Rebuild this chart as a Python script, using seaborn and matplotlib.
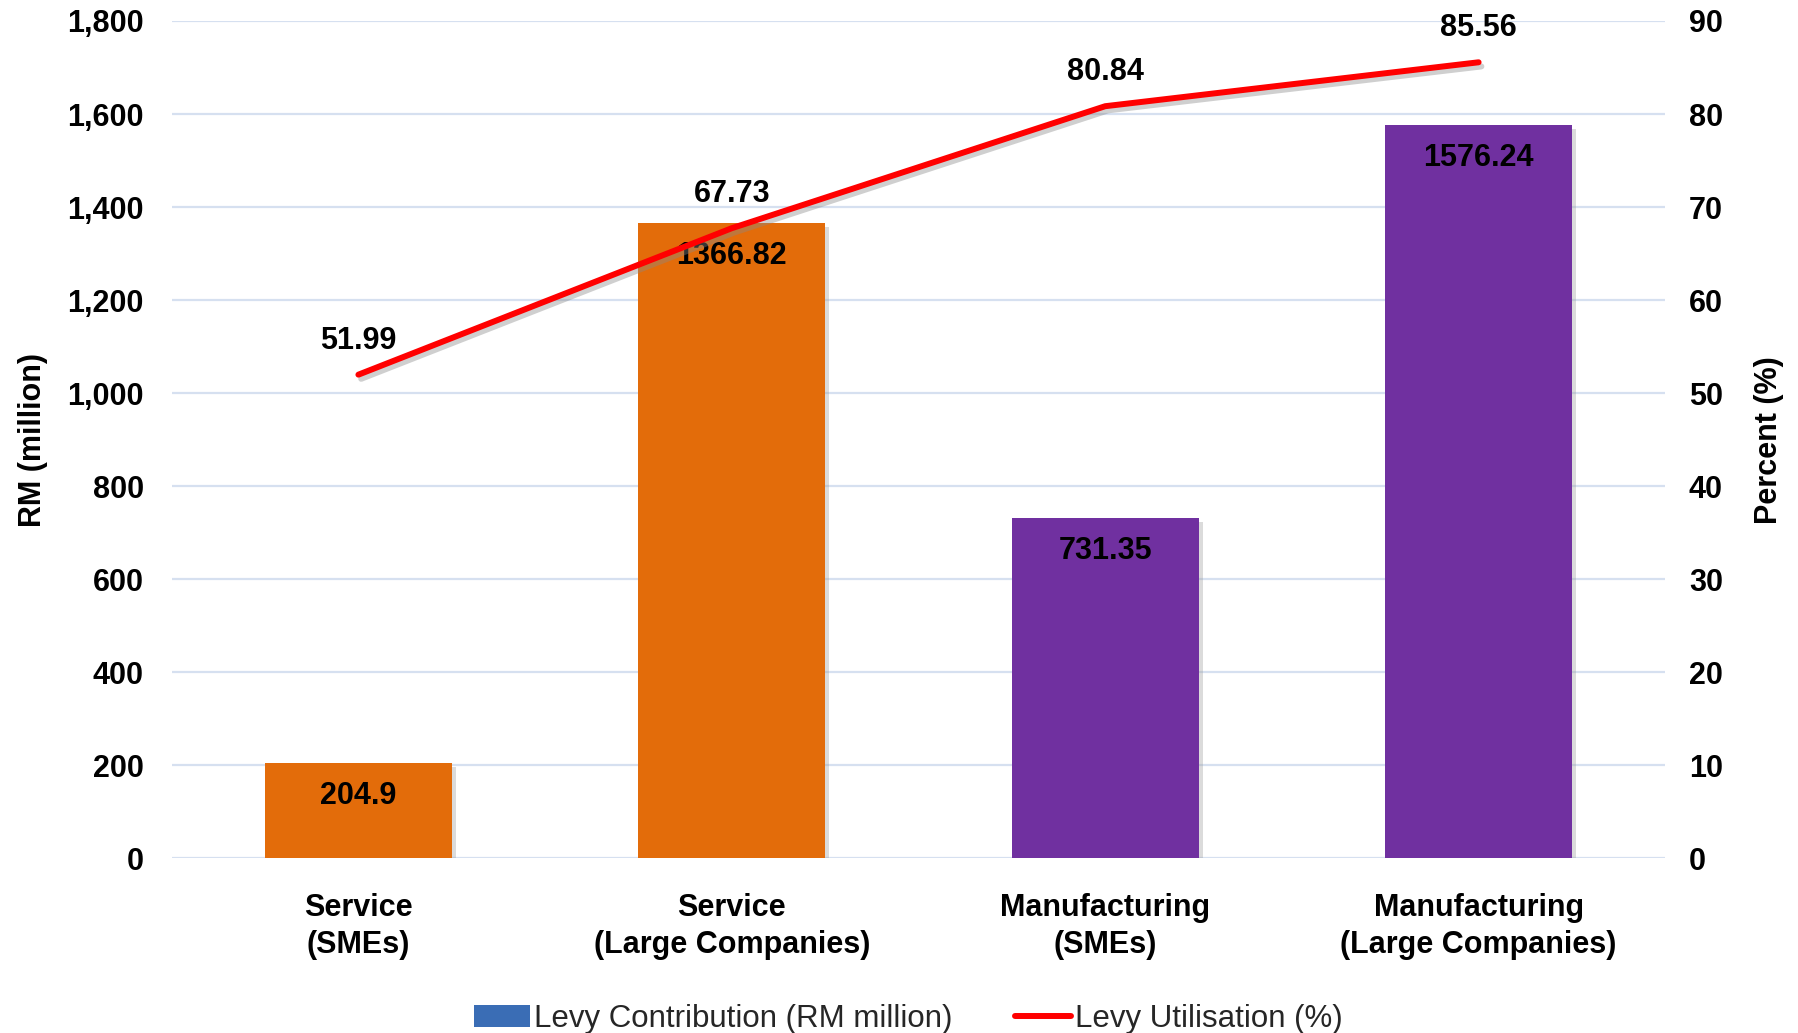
import matplotlib
matplotlib.use("Agg")
import matplotlib.pyplot as plt
import matplotlib.patheffects as pe
from matplotlib.patches import Patch
from matplotlib.lines import Line2D
from matplotlib.ticker import FuncFormatter, MultipleLocator
import numpy as np
import pandas as pd
import seaborn as sns

categories = ["Service\n(SMEs)", "Service\n(Large Companies)",
              "Manufacturing\n(SMEs)", "Manufacturing\n(Large Companies)"]
contribution = [204.9, 1366.82, 731.35, 1576.24]
utilisation = [51.99, 67.73, 80.84, 85.56]
bar_colors = ["#E36C0A", "#E36C0A", "#7030A0", "#7030A0"]
contribution_labels = ["204.9", "1366.82", "731.35", "1576.24"]
utilisation_labels = ["51.99", "67.73", "80.84", "85.56"]

sns.set_theme(style="white")
plt.rcParams['font.family'] = ['Liberation Sans', 'DejaVu Sans']

df = pd.DataFrame({"cat": categories, "val": contribution})

fig = plt.figure(figsize=(17.98, 10.33), dpi=100)
ax = fig.add_axes([0.0955, 0.169, 0.8307, 0.8107])

sns.barplot(data=df, x="cat", y="val", hue="cat", palette=bar_colors,
            width=0.5, legend=False, ax=ax, saturation=1, zorder=3)
for p in ax.patches:
    p.set_path_effects([pe.SimplePatchShadow(offset=(3, -3), shadow_rgbFace="#999999", alpha=0.35), pe.Normal()])
    p.set_edgecolor("none")

ax.set_xlim(-0.5, 3.5)
ax.set_ylim(0, 1800)
ax.yaxis.set_major_locator(MultipleLocator(200))
ax.yaxis.set_major_formatter(FuncFormatter(lambda v, _: f"{int(v):,}"))
ax.grid(axis="y", color="#D6E0F0", linewidth=1.6, zorder=0)
ax.grid(axis="x", visible=False)
for s in ax.spines.values():
    s.set_visible(False)
ax.tick_params(axis="both", length=0, labelsize=22)
ax.tick_params(axis="y", pad=20)
ax.tick_params(axis="x", pad=25)
for t in ax.get_yticklabels() + ax.get_xticklabels():
    t.set_fontweight("bold")
    t.set_color("black")
for t in ax.get_xticklabels():
    t.set_linespacing(1.3)
ax.set_xlabel("")
ax.set_ylabel("RM (million)", fontsize=22, fontweight="bold", color="black", labelpad=14)

for i, (v, lab) in enumerate(zip(contribution, contribution_labels)):
    ax.annotate(lab, (i, v), xytext=(0, -33), textcoords="offset pixels",
                ha="center", va="center", fontsize=22, fontweight="bold",
                color="black", zorder=6)

ax2 = ax.twinx()
xs = np.arange(len(categories))
sns.lineplot(x=xs, y=utilisation, ax=ax2, color="#FF0000", linewidth=4.3,
             solid_capstyle="round", zorder=5)
for ln in ax2.lines:
    ln.set_path_effects([pe.SimpleLineShadow(offset=(2, -3), shadow_color="#888888", alpha=0.4), pe.Normal()])
ax2.set_ylim(0, 90)
ax2.yaxis.set_major_locator(MultipleLocator(10))
for s in ax2.spines.values():
    s.set_visible(False)
ax2.grid(False)
ax2.tick_params(axis="y", length=0, labelsize=22, pad=17)
for t in ax2.get_yticklabels():
    t.set_fontweight("bold")
    t.set_color("black")
ax2.set_ylabel("Percent (%)", fontsize=22, fontweight="bold", color="black", labelpad=22)
for i, (v, lab) in enumerate(zip(utilisation, utilisation_labels)):
    ax2.annotate(lab, (i, v), xytext=(0, 34), textcoords="offset pixels",
                 ha="center", va="center", fontsize=22, fontweight="bold",
                 color="black", zorder=6)
ax2.set_xlim(-0.5, 3.5)

handles = [Patch(facecolor="#3A6DB5", edgecolor="none"),
           Line2D([0], [0], color="#FF0000", linewidth=4.3)]
fig.legend(handles, ["Levy Contribution (RM million)", "Levy Utilisation (%)"],
           loc="center", bbox_to_anchor=(0.505, 0.0135), ncol=2, frameon=False,
           fontsize=22.5, handlelength=1.8, handletextpad=0.12, columnspacing=2.0)

fig.savefig("out.png", dpi=100)
